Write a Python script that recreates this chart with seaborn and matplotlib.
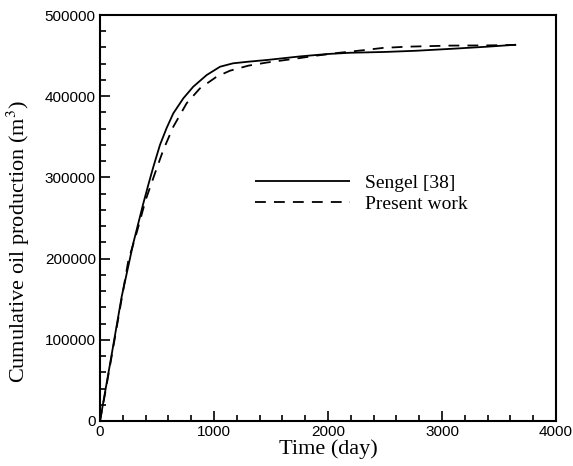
import numpy as np
import pandas as pd
import matplotlib
matplotlib.use('Agg')
import matplotlib.pyplot as plt
import seaborn as sns

# Sengel [38] (solid)
sengel_t = [0, 50, 100, 190, 292, 380, 424, 468, 526, 585, 643, 731, 818, 936, 1053,
            1167, 1301, 1465, 1754, 2000, 2193, 2500, 2778, 3100, 3400, 3650]
sengel_q = [0, 40000, 80000, 153000, 219000, 268000, 291000, 313000, 340000, 361000,
            378900, 397400, 411700, 426100, 436300, 440500, 442500, 444600, 449000,
            452000, 453500, 454500, 456000, 458500, 461000, 463400]

# Present work (dashed)
present_t = [0, 50, 100, 150, 249, 322, 400, 482, 555, 643, 760, 877, 1023, 1140,
             1301, 1465, 1754, 1900, 2100, 2300, 2485, 2700, 3070, 3421, 3650]
present_q = [0, 38000, 78000, 118000, 198000, 232000, 272000, 305000, 333700, 362400,
             391300, 409700, 424000, 431400, 437600, 441500, 447000, 450000, 453500,
             456500, 459500, 461000, 462300, 462600, 463200]

labels = ['Sengel [38]', 'Present work']

df = pd.concat([
    pd.DataFrame({'t': sengel_t, 'q': sengel_q, 'src': labels[0]}),
    pd.DataFrame({'t': present_t, 'q': present_q, 'src': labels[1]}),
])

sns.set_style('ticks', {'axes.edgecolor': 'black', 'text.color': 'black',
                        'xtick.color': 'black', 'ytick.color': 'black',
                        'axes.labelcolor': 'black'})
plt.rcParams['font.family'] = ['Liberation Serif', 'DejaVu Serif']
plt.rcParams['mathtext.fontset'] = 'stix'

fig = plt.figure(figsize=(5.73, 4.66), dpi=100)
ax = fig.add_axes([100 / 573, 45 / 466, 456 / 573, 406 / 466])

sns.lineplot(data=df, x='t', y='q', hue='src', style='src',
             palette=['black', 'black'], dashes=[(1, 0), (6, 4.5)],
             linewidth=1.3, sort=False, estimator=None, ax=ax)

ax.set_xlim(0, 4000)
ax.set_ylim(0, 500000)
ax.set_xticks([0, 1000, 2000, 3000, 4000])
ax.set_yticks([0, 100000, 200000, 300000, 400000, 500000])
ax.set_xticks(np.arange(0, 4001, 200), minor=True)
ax.set_yticks(np.arange(0, 500001, 20000), minor=True)
ax.tick_params(which='both', direction='in', top=False, right=False, width=1.2,
               colors='black')
ax.tick_params(which='major', length=7, pad=3)
ax.tick_params(which='minor', length=4.5)
for lab in ax.get_xticklabels() + ax.get_yticklabels():
    lab.set_family('Liberation Sans')
    lab.set_fontsize(11)
for s in ax.spines.values():
    s.set_linewidth(1.5)
    s.set_color('black')

ax.set_xlabel('Time (day)', fontsize=16)
ax.set_ylabel('Cumulative oil production (m$^3$)', fontsize=16)
ax.xaxis.set_label_coords(0.5, -0.045)
ax.yaxis.set_label_coords(-0.15, 0.443)

handles, _ = ax.get_legend_handles_labels()
leg = ax.legend(handles=handles, labels=labels, loc='upper left',
                bbox_to_anchor=(0.34, 0.608), frameon=False, fontsize=14,
                handlelength=4.9, handletextpad=0.75, labelspacing=0.2,
                borderpad=0, borderaxespad=0)
for t in leg.get_texts():
    t.set_color('black')

fig.savefig('out.png', dpi=100)
